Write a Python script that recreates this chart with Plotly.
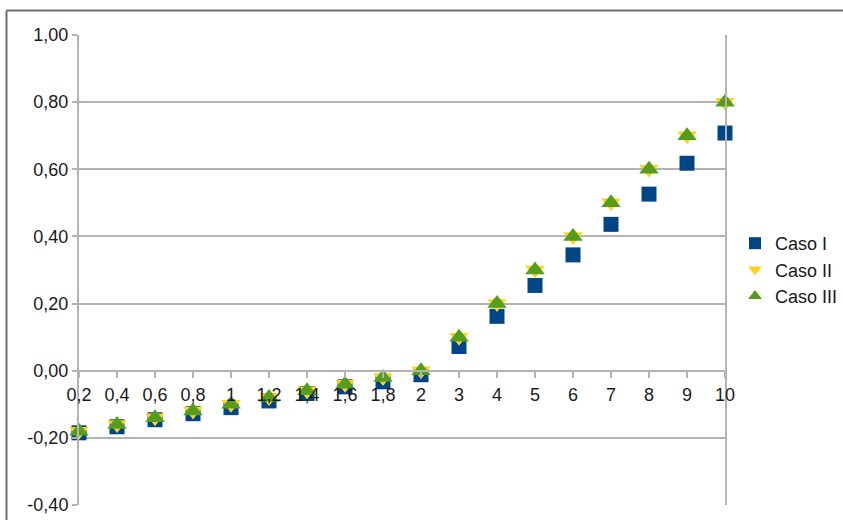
import plotly.graph_objects as go

# Category labels along the horizontal axis
categorias = ["0,2", "0,4", "0,6", "0,8", "1", "1,2", "1,4", "1,6", "1,8", "2",
              "3", "4", "5", "6", "7", "8", "9", "10"]

# Series values
caso_i = [-0.185, -0.167, -0.146, -0.128, -0.11, -0.09, -0.068, -0.048, -0.033, -0.012,
          0.072, 0.162, 0.254, 0.345, 0.436, 0.526, 0.618, 0.708]
caso_ii = [-0.18, -0.16, -0.14, -0.12, -0.10, -0.08, -0.06, -0.04, -0.02, 0.00,
           0.10, 0.20, 0.30, 0.40, 0.50, 0.60, 0.70, 0.80]
caso_iii = [-0.18, -0.16, -0.14, -0.12, -0.10, -0.08, -0.06, -0.04, -0.02, 0.00,
            0.10, 0.20, 0.30, 0.40, 0.50, 0.60, 0.70, 0.80]

y_ticks = [-0.40, -0.20, 0.00, 0.20, 0.40, 0.60, 0.80, 1.00]
y_tick_text = ["-0,40", "-0,20", "0,00", "0,20", "0,40", "0,60", "0,80", "1,00"]

W, H = 843, 520
L, R, T, B = 79, 725, 35, 505  # plot area in pixels
FONT = "Liberation Sans"
TXT = "#1a1a1a"
FS = 18

fig = go.Figure()
fig.add_trace(go.Scatter(x=categorias, y=caso_i, mode="markers", name="Caso I",
                         marker=dict(symbol="square", size=15, color="#004586"),
                         cliponaxis=False))
fig.add_trace(go.Scatter(x=categorias, y=caso_ii, mode="markers", name="Caso II",
                         marker=dict(symbol="triangle-down", size=17, color="#ffd320"),
                         cliponaxis=False))
fig.add_trace(go.Scatter(x=categorias, y=caso_iii, mode="markers", name="Caso III",
                         marker=dict(symbol="triangle-up", size=17, color="#579d1c"),
                         cliponaxis=False))

y0_paper = (0.0 - (-0.40)) / 1.40

def px_x(p):
    return (p - L) / (R - L)

def px_y(p):
    return (B - p) / (B - T)

fig.update_layout(
    width=W, height=H,
    margin=dict(l=L, r=W - R, t=T, b=H - B, pad=0, autoexpand=False),
    paper_bgcolor="white", plot_bgcolor="white",
    font=dict(family=FONT, size=FS, color=TXT),
    showlegend=True,
    legend=dict(x=px_x(735), y=px_y(270), xanchor="left", yanchor="middle",
                font=dict(family=FONT, size=FS, color=TXT),
                tracegroupgap=0, itemsizing="constant", itemwidth=30,
                bgcolor="rgba(0,0,0,0)"),
    xaxis=dict(type="category", range=[0, len(categorias) - 1],
               showgrid=False, zeroline=False,
               showline=True, linecolor="#b3b3b3", linewidth=2,
               ticks="outside", ticklen=6, tickcolor="#b3b3b3", tickwidth=2,
               ticklabelstandoff=2,
               anchor="free", position=y0_paper,
               tickfont=dict(family=FONT, size=FS, color=TXT)),
    yaxis=dict(range=[-0.40, 1.00], tickvals=y_ticks, ticktext=y_tick_text,
               showgrid=True, gridcolor="#b3b3b3", gridwidth=1.5,
               zeroline=False,
               showline=True, linecolor="#b3b3b3", linewidth=2, mirror=True,
               ticks="outside", ticklen=5, tickcolor="#b3b3b3", tickwidth=2,
               tickfont=dict(family=FONT, size=FS, color=TXT)),
    shapes=[
        dict(type="line", xref="paper", yref="paper",
             x0=px_x(6.5), x1=px_x(6.5), y0=px_y(530), y1=px_y(10.5),
             line=dict(color="#6e6e6e", width=2)),
        dict(type="line", xref="paper", yref="paper",
             x0=px_x(6.5), x1=px_x(850), y0=px_y(10.5), y1=px_y(10.5),
             line=dict(color="#6e6e6e", width=2)),
    ],
)

fig.write_html("out.html")
